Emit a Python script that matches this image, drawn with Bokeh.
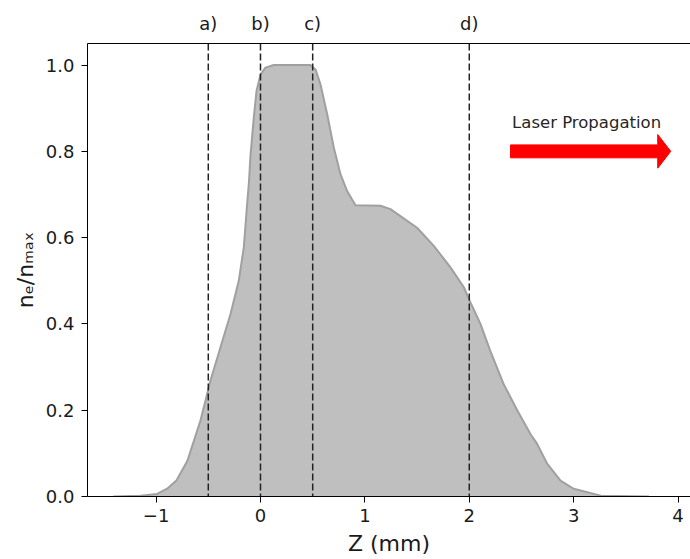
from bokeh.plotting import figure
from bokeh.models import Range1d, LinearAxis, FixedTicker, Span, Label
from bokeh.embed import file_html
from bokeh.resources import INLINE

# ---- data ----
z_mm = [-1.41, -1.15, -0.99, -0.894, -0.805, -0.70, -0.575, -0.527, -0.479, -0.383,
        -0.287, -0.208, -0.16, -0.127, -0.11, -0.096, -0.064, -0.038, 0.0, 0.048,
        0.127, 0.479, 0.527, 0.575, 0.639, 0.702, 0.766, 0.83, 0.91, 1.149,
        1.245, 1.34, 1.5, 1.66, 1.82, 1.948, 2.011, 2.107, 2.2, 2.33,
        2.459, 2.586, 2.65, 2.746, 2.874, 3.0, 3.26, 3.72]
density = [0.0, 0.002, 0.006, 0.018, 0.037, 0.083, 0.176, 0.222, 0.269, 0.346,
           0.423, 0.5, 0.577, 0.68, 0.73, 0.79, 0.878, 0.94, 0.978, 0.994,
           1.0, 1.0, 0.99, 0.955, 0.886, 0.809, 0.747, 0.708, 0.675, 0.674,
           0.666, 0.65, 0.623, 0.581, 0.531, 0.485, 0.45, 0.4, 0.338, 0.26,
           0.2, 0.145, 0.122, 0.076, 0.037, 0.018, 0.002, 0.0]
marker_z = [-0.5, 0.0, 0.5, 2.0]
marker_labels = ["a)", "b)", "c)", "d)"]
x_ticks = [-1, 0, 1, 2, 3, 4]
y_ticks = [0.0, 0.2, 0.4, 0.6, 0.8, 1.0]
arrow_text = "Laser Propagation"
x_label = "Z (mm)"
y_label = "n\u2091/n\u2098\u2090\u2093"

# ---- arrow geometry (annotation) ----
arrow_x0, arrow_x1, arrow_y = 2.395, 3.93, 0.80
shaft_half, head_half, head_len = 0.015, 0.039, 0.125

FONT = "DejaVu Sans"

p = figure(width=690, height=559,
           x_range=Range1d(-1.657, 4.119), y_range=Range1d(0, 1.05),
           output_backend="svg", toolbar_location=None,
           min_border_left=87, min_border_right=0,
           min_border_top=43, min_border_bottom=63)
p.grid.visible = False
p.outline_line_color = None
p.background_fill_color = "white"
p.border_fill_color = "white"

# density profile
p.varea(x=z_mm, y1=[0.0] * len(z_mm), y2=density, fill_color="#bfbfbf")
p.line(z_mm, density, line_color="#a0a0a0", line_width=2)

# dashed markers
for z in marker_z:
    p.add_layout(Span(location=z, dimension="height", line_color="#222222",
                      line_width=1.5, line_dash="7 3"))

# arrow
axs = [arrow_x0, arrow_x1 - head_len, arrow_x1 - head_len, arrow_x1,
       arrow_x1 - head_len, arrow_x1 - head_len, arrow_x0]
ays = [arrow_y - shaft_half, arrow_y - shaft_half, arrow_y - head_half, arrow_y,
       arrow_y + head_half, arrow_y + shaft_half, arrow_y + shaft_half]
p.patch(axs, ays, fill_color="red", line_color="red", line_width=1)
p.add_layout(Label(x=2.41, y=0.868, text=arrow_text, text_font=FONT,
                   text_font_size="16.5px", text_color="#262626",
                   text_baseline="alphabetic", text_align="left"))

# axes
xa = p.xaxis[0]
xa.ticker = FixedTicker(ticks=x_ticks)
xa.major_label_overrides = {t: (str(t).replace("-", "\u2212")) for t in x_ticks}
xa.axis_label = x_label
ya = p.yaxis[0]
ya.ticker = FixedTicker(ticks=y_ticks)
ya.major_label_overrides = {t: f"{t:.1f}" for t in y_ticks}
ya.axis_label = y_label

for ax in (xa, ya):
    ax.minor_tick_line_color = None
    ax.major_tick_in = 0
    ax.major_tick_out = 6
    ax.major_label_standoff = 6
    ax.axis_line_color = "black"
    ax.major_tick_line_color = "black"
    ax.major_label_text_font = FONT
    ax.major_label_text_font_size = "18px"
    ax.major_label_text_color = "#1a1a1a"
    ax.axis_label_text_font = FONT
    ax.axis_label_text_font_size = "22px"
    ax.axis_label_text_font_style = "normal"
    ax.axis_label_text_color = "#1a1a1a"
xa.axis_label_standoff = 6
ya.axis_label_standoff = 5
ya.major_label_standoff = 7

top = LinearAxis(ticker=FixedTicker(ticks=marker_z))
top.major_label_overrides = {z: lab for z, lab in zip(marker_z, marker_labels)}
top.major_tick_line_color = None
top.minor_tick_line_color = None
top.major_tick_out = 0
top.major_tick_in = 0
top.major_label_standoff = 10
top.axis_line_color = "black"
top.major_label_text_font = FONT
top.major_label_text_font_size = "18px"
top.major_label_text_color = "#1a1a1a"
p.add_layout(top, "above")

open("out.html", "w").write(file_html(p, INLINE))
